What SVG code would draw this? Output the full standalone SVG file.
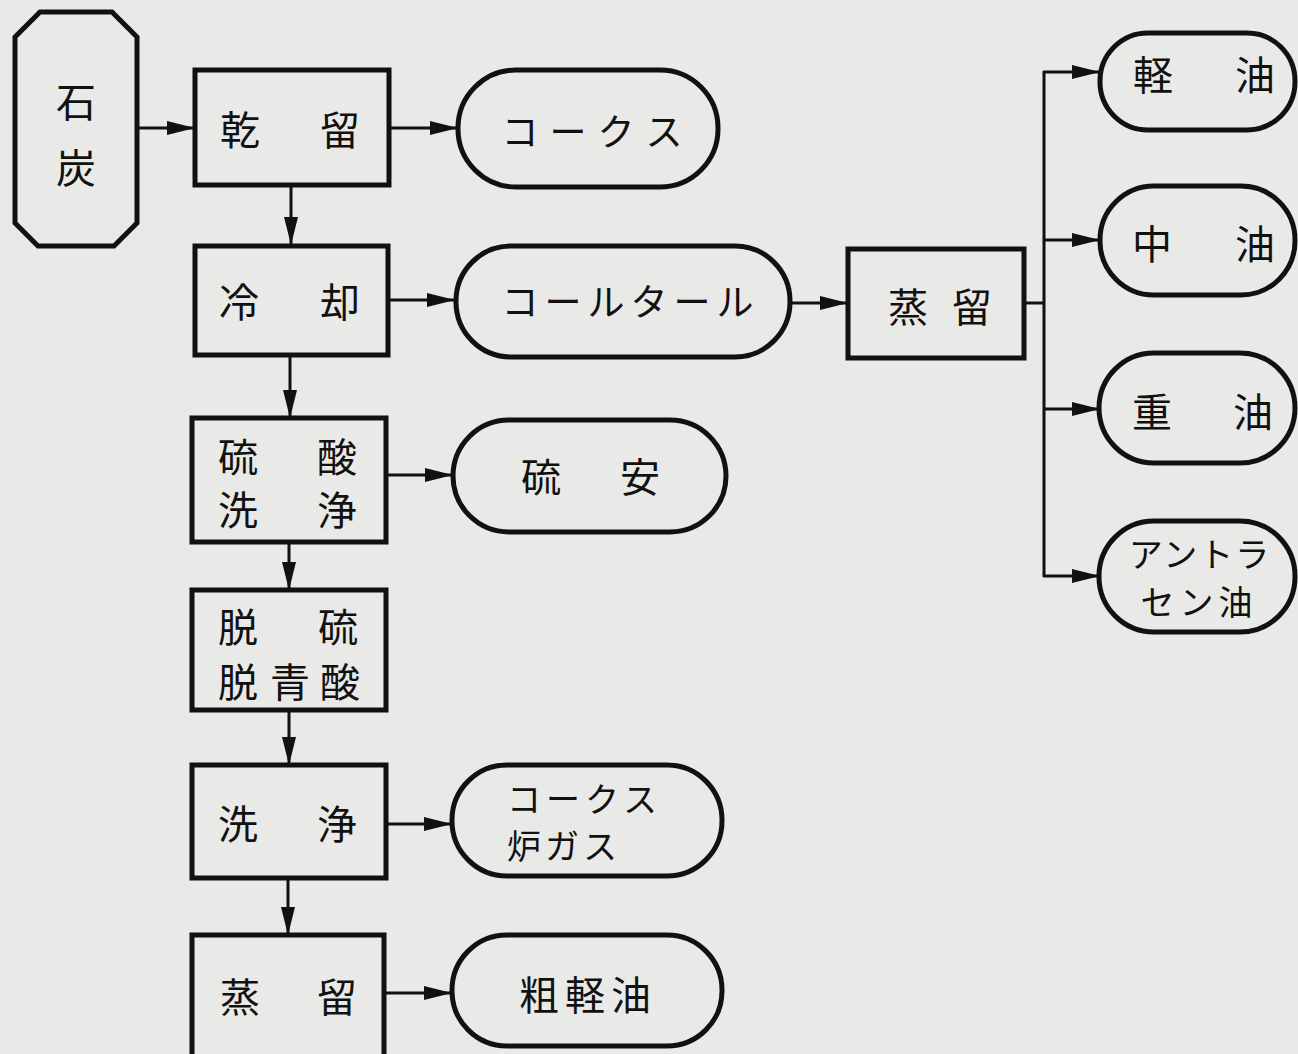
<svg xmlns="http://www.w3.org/2000/svg" width="1298" height="1054" viewBox="0 0 1298 1054">
<style>
.bg{fill:#e9e9e7}
.box{fill:#e9e9e7;stroke:#111;stroke-width:5}
.cn{fill:none;stroke:#111;stroke-width:3}
.t{font-family:"Noto Sans CJK JP","Noto Sans CJK SC",sans-serif;font-size:40px;fill:#111;text-anchor:middle;dominant-baseline:central}
.s{font-size:37px}
.m{font-size:34px}
</style>
<defs>
<marker id="ah" markerUnits="userSpaceOnUse" markerWidth="28" markerHeight="16" refX="27" refY="8" orient="auto">
<path d="M0,1 L28,8 L0,15 z" fill="#111"/>
</marker>
</defs>
<rect class="bg" x="0" y="0" width="1298" height="1054"/>
<g id="connectors">
<line class="cn" x1="137" y1="128" x2="194" y2="128" marker-end="url(#ah)"/>
<line class="cn" x1="390" y1="128" x2="457" y2="128" marker-end="url(#ah)"/>
<line class="cn" x1="291" y1="185" x2="291" y2="244" marker-end="url(#ah)"/>
<line class="cn" x1="388" y1="300" x2="454" y2="300" marker-end="url(#ah)"/>
<line class="cn" x1="790" y1="303" x2="847" y2="303" marker-end="url(#ah)"/>
<line class="cn" x1="290" y1="355" x2="290" y2="417" marker-end="url(#ah)"/>
<line class="cn" x1="386" y1="475" x2="452" y2="475" marker-end="url(#ah)"/>
<line class="cn" x1="289" y1="542" x2="289" y2="589" marker-end="url(#ah)"/>
<line class="cn" x1="289" y1="710" x2="289" y2="764" marker-end="url(#ah)"/>
<line class="cn" x1="386" y1="824" x2="451" y2="824" marker-end="url(#ah)"/>
<line class="cn" x1="288" y1="878" x2="288" y2="934" marker-end="url(#ah)"/>
<line class="cn" x1="384" y1="993" x2="451" y2="993" marker-end="url(#ah)"/>
<polyline class="cn" points="1024,303 1044,303"/>
<line class="cn" x1="1044" y1="71" x2="1044" y2="577"/>
<line class="cn" x1="1043" y1="72" x2="1099" y2="72" marker-end="url(#ah)"/>
<line class="cn" x1="1043" y1="240" x2="1099" y2="240" marker-end="url(#ah)"/>
<line class="cn" x1="1043" y1="409" x2="1099" y2="409" marker-end="url(#ah)"/>
<line class="cn" x1="1043" y1="576" x2="1099" y2="576" marker-end="url(#ah)"/>
</g>
<g id="coal">
<path class="box" d="M40,12 L112,12 L137,37 L137,223 L114,246 L38,246 L15,223 L15,37 Z"/>
<text class="t"><tspan x="76" y="100">石</tspan><tspan x="76" y="166">炭</tspan></text>
</g>
<g id="kanryu">
<rect class="box" x="195" y="70" width="194" height="115"/>
<text class="t" y="128"><tspan x="240">乾</tspan><tspan x="340">留</tspan></text>
</g>
<g id="coke">
<rect class="box" x="458" y="70" width="260" height="117" rx="58"/>
<text class="t s" y="130"><tspan x="520">コ</tspan><tspan x="568">ー</tspan><tspan x="616">ク</tspan><tspan x="664">ス</tspan></text>
</g>
<g id="reikyaku">
<rect class="box" x="195" y="246" width="193" height="109"/>
<text class="t" y="300"><tspan x="239">冷</tspan><tspan x="340">却</tspan></text>
</g>
<g id="coaltar">
<rect class="box" x="456" y="246" width="334" height="111" rx="55"/>
<text class="t s" y="300"><tspan x="520">コ</tspan><tspan x="563">ー</tspan><tspan x="606">ル</tspan><tspan x="649">タ</tspan><tspan x="692">ー</tspan><tspan x="735">ル</tspan></text>
</g>
<g id="joryu2">
<rect class="box" x="848" y="249" width="176" height="109"/>
<text class="t" y="305"><tspan x="908">蒸</tspan><tspan x="972">留</tspan></text>
</g>
<g id="keiyu">
<rect class="box" x="1100" y="33" width="195" height="97" rx="48"/>
<text class="t" y="73"><tspan x="1153">軽</tspan><tspan x="1255">油</tspan></text>
</g>
<g id="chuyu">
<rect class="box" x="1100" y="186" width="195" height="109" rx="54"/>
<text class="t" y="242"><tspan x="1152">中</tspan><tspan x="1255">油</tspan></text>
</g>
<g id="juyu">
<rect class="box" x="1099" y="353" width="196" height="110" rx="55"/>
<text class="t" y="410"><tspan x="1152">重</tspan><tspan x="1253">油</tspan></text>
</g>
<g id="anthracene">
<rect class="box" x="1099" y="521" width="196" height="111" rx="55"/>
<text class="t m" x="1200" y="552" letter-spacing="2">アントラ</text>
<text class="t m" x="1199" y="600" letter-spacing="5">セン油</text>
</g>
<g id="ryusan">
<rect class="box" x="192" y="418" width="194" height="124"/>
<text class="t"><tspan x="238" y="455">硫</tspan><tspan x="337" y="455">酸</tspan><tspan x="238" y="508">洗</tspan><tspan x="337" y="508">浄</tspan></text>
</g>
<g id="ryuan">
<rect class="box" x="453" y="420" width="273" height="112" rx="56"/>
<text class="t" y="475"><tspan x="541">硫</tspan><tspan x="640">安</tspan></text>
</g>
<g id="datsuryu">
<rect class="box" x="192" y="590" width="194" height="120"/>
<text class="t"><tspan x="238" y="625">脱</tspan><tspan x="338" y="625">硫</tspan><tspan x="238" y="680">脱</tspan><tspan x="290" y="680">青</tspan><tspan x="340" y="680">酸</tspan></text>
</g>
<g id="senjo">
<rect class="box" x="192" y="765" width="194" height="113"/>
<text class="t" y="822"><tspan x="238">洗</tspan><tspan x="337">浄</tspan></text>
</g>
<g id="cokegas">
<rect class="box" x="452" y="765" width="270" height="111" rx="55"/>
<text class="t m" x="507" y="797" letter-spacing="5" style="text-anchor:start">コークス</text>
<text class="t m" x="507" y="844" letter-spacing="4" style="text-anchor:start">炉ガス</text>
</g>
<g id="joryu1">
<rect class="box" x="192" y="935" width="192" height="125"/>
<text class="t" y="995"><tspan x="240">蒸</tspan><tspan x="337">留</tspan></text>
</g>
<g id="sokeiyu">
<rect class="box" x="452" y="935" width="270" height="111" rx="55"/>
<text class="t" x="588" y="993" letter-spacing="6">粗軽油</text>
</g>
</svg>
